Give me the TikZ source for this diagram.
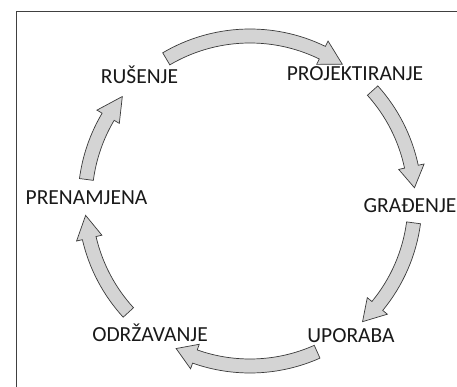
\documentclass[tikz,border=0pt]{standalone}
\usepackage{fontspec}
\setmainfont{Carlito}
\usepackage{xcolor}
\usepackage{tikz}

\definecolor{arrowfill}{HTML}{D4D4D4}
\definecolor{arrowline}{HTML}{3A3A3A}

\tikzset{
  phase/.style={font=\fontsize{21.5}{24}\selectfont, text=black!90, inner sep=0pt, anchor=base},
  phasearrow/.style={fill=arrowfill, draw=arrowline, line width=0.7pt, line join=miter},
  frameline/.style={draw=black!75, line width=0.9pt}
}

% tail angle, head base angle, tip angle
\newcommand{\cyclearrow}[3]{%
  \draw[phasearrow] (#1:172) arc[start angle=#1, end angle=#2, radius=172]
    -- (#2:178) -- (#3:165) -- (#2:152) -- (#2:158)
    arc[start angle=#2, end angle=#1, radius=158] -- cycle;}

\begin{document}
\begin{tikzpicture}[x=1pt, y=1pt]
\useasboundingbox (0,0) rectangle (457,387);

% Frame
\draw[frameline] (16,0) -- (16,376) -- (457,376);

% Phases
\node[phase] (rusenje) at (139.5,303) {RUŠENJE};
\node[phase] (projektiranje) at (355,306) {PROJEKTIRANJE};
\node[phase] (gradenje) at (410,174.7) {GRAĐENJE};
\node[phase] (uporaba) at (351,44.3) {UPORABA};
\node[phase] (odrzavanje) at (150,45.3) {ODRŽAVANJE};
\node[phase] (prenamjena) at (86.5,182) {PRENAMJENA};

% Cycle arrows
\begin{scope}[shift={(250,186)}]
  \cyclearrow{120.5}{64}{56}
  \cyclearrow{42}{12}{4.6}
  \cyclearrow{-7.6}{-39.5}{-47}
  \cyclearrow{-66}{-109.5}{-116.6}
  \cyclearrow{-137.5}{-167}{-175}
  \cyclearrow{172.5}{149.3}{140.7}
\end{scope}

\end{tikzpicture}
\end{document}
